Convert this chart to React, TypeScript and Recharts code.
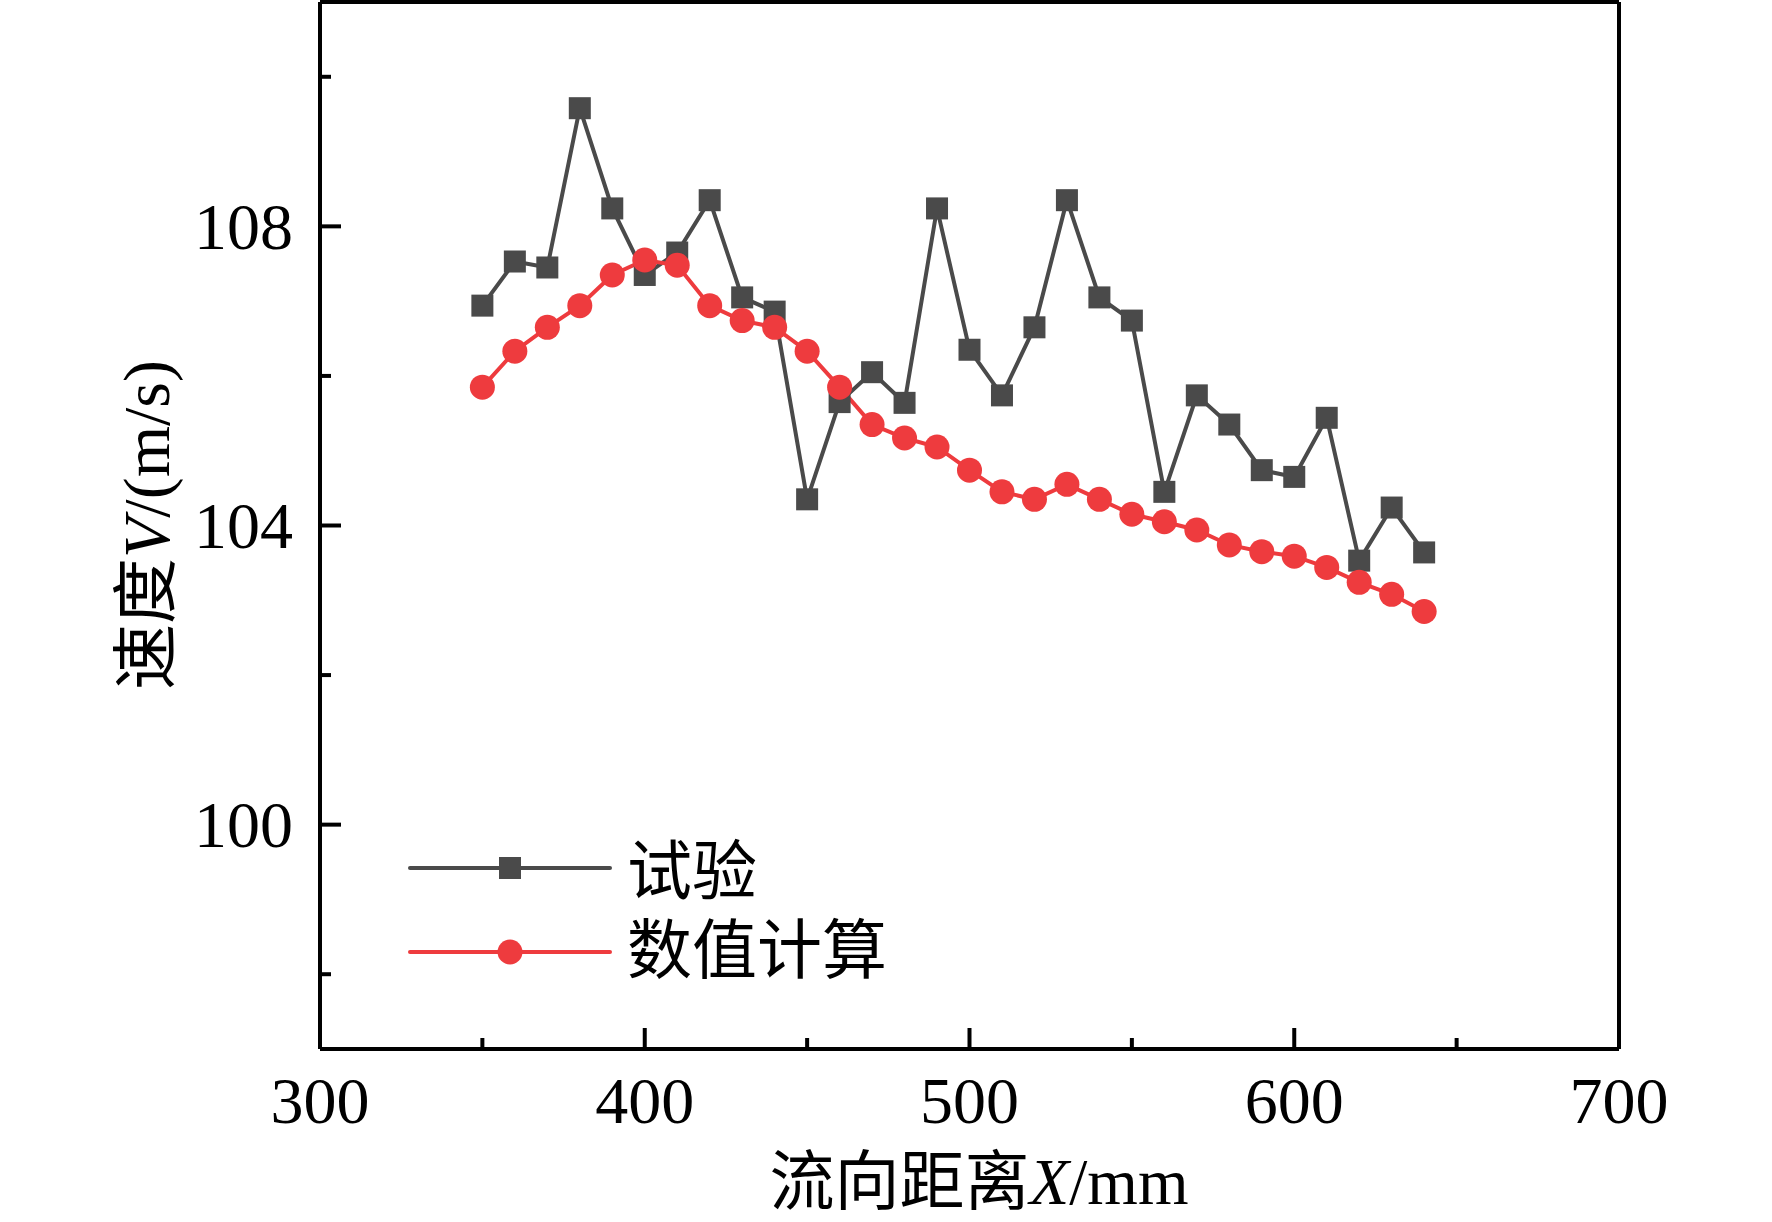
import { LineChart, Line, XAxis, YAxis, Legend } from 'recharts'

const xs = [350, 360, 370, 380, 390, 400, 410, 420, 430, 440, 450, 460, 470, 480, 490, 500, 510, 520, 530, 540, 550, 560, 570, 580, 590, 600, 610, 620, 630, 640]
const testVals = [106.94, 107.53, 107.45, 109.58, 108.24, 107.35, 107.65, 108.35, 107.05, 106.86, 104.35, 105.65, 106.05, 105.64, 108.24, 106.35, 105.74, 106.65, 108.35, 107.05, 106.74, 104.45, 105.74, 105.35, 104.74, 104.65, 105.44, 103.53, 104.24, 103.64]
const calcVals = [105.85, 106.33, 106.65, 106.94, 107.35, 107.55, 107.48, 106.94, 106.74, 106.65, 106.33, 105.85, 105.35, 105.17, 105.05, 104.74, 104.45, 104.35, 104.55, 104.35, 104.15, 104.05, 103.94, 103.74, 103.65, 103.59, 103.44, 103.24, 103.08, 102.85]
const xTicks = [300, 350, 400, 450, 500, 550, 600, 650, 700]
const yTicks = [98, 100, 102, 104, 106, 108, 110]
const seriesNames = ['试验', '数值计算']

const data = xs.map((x, i) => ({ x, test: testVals[i], calc: calcVals[i] }))

const FONT = "'Liberation Serif', 'Times New Roman', 'Noto Sans CJK SC', serif"
const GRAY = '#4a4a4a'
const RED = '#ee3b3e'

function SquareDot({ cx, cy }: { cx?: number; cy?: number }) {
  if (cx == null || cy == null) return null
  return <rect x={cx - 11} y={cy - 11} width={22} height={22} fill={GRAY} />
}

function CircleDot({ cx, cy }: { cx?: number; cy?: number }) {
  if (cx == null || cy == null) return null
  return <circle cx={cx} cy={cy} r={12.5} fill={RED} />
}

function YTick({ x, y, payload }: any) {
  const major = payload.value % 4 === 0
  return (
    <g>
      <line x1={x} x2={x + (major ? 21 : 11)} y1={y} y2={y} stroke="#000" strokeWidth={4} />
      {major && (
        <text x={x - 27} y={y} textAnchor="end" dominantBaseline="central" fontSize={66} fontFamily={FONT} fill="#000">
          {payload.value}
        </text>
      )}
    </g>
  )
}

function XTick({ x, y, payload }: any) {
  const major = payload.value % 100 === 0
  return (
    <g>
      <line x1={x} x2={x} y1={y} y2={y - (major ? 21 : 11)} stroke="#000" strokeWidth={4} />
      {major && (
        <text x={x} y={y + 51} textAnchor="middle" dominantBaseline="central" fontSize={66} fontFamily={FONT} fill="#000">
          {payload.value}
        </text>
      )}
    </g>
  )
}

function XTitle() {
  return (
    <text x={979} y={1182} textAnchor="middle" dominantBaseline="central" fontSize={65} fontFamily={FONT} fill="#000">
      流向距离<tspan fontStyle="italic">X</tspan>/mm
    </text>
  )
}

function YTitle() {
  return (
    <text x={146} y={525} transform="rotate(-90 146 525)" textAnchor="middle" dominantBaseline="central" fontSize={66} fontFamily={FONT} fill="#000">
      速度<tspan fontStyle="italic">V</tspan>/(m/s)
    </text>
  )
}

function LegendBox() {
  return (
    <svg width={560} height={170}>
      <line x1={10} x2={210} y1={38} y2={38} stroke={GRAY} strokeWidth={4} strokeLinecap="round" />
      <rect x={99} y={27} width={22} height={22} fill={GRAY} />
      <text x={227} y={42} dominantBaseline="central" fontSize={65} fontFamily={FONT} fill="#000">{seriesNames[0]}</text>
      <line x1={10} x2={210} y1={122} y2={122} stroke={RED} strokeWidth={4} strokeLinecap="round" />
      <circle cx={110} cy={122} r={12.5} fill={RED} />
      <text x={227} y={121} dominantBaseline="central" fontSize={65} fontFamily={FONT} fill="#000">{seriesNames[1]}</text>
    </svg>
  )
}

export default function App() {
  return (
    <div style={{ position: 'absolute', left: 0, top: 0, width: 1772, height: 1222, background: '#fff' }}>
      <LineChart width={1772} height={1222} data={data} margin={{ top: 0, right: 151, bottom: 113, left: 260 }}>
        <XAxis
          dataKey="x"
          type="number"
          domain={[300, 700]}
          ticks={xTicks}
          interval={0}
          height={60}
          tickSize={0}
          tickMargin={0}
          tickLine={false}
          tick={<XTick />}
          axisLine={{ stroke: '#000', strokeWidth: 4 }}
          label={<XTitle />}
        />
        <XAxis xAxisId="top" orientation="top" dataKey="x" type="number" domain={[300, 700]} height={2} tick={false} tickLine={false} axisLine={{ stroke: '#000', strokeWidth: 4 }} />
        <YAxis
          type="number"
          domain={[97, 111]}
          ticks={yTicks}
          interval={0}
          width={60}
          tickSize={0}
          tickMargin={0}
          tickLine={false}
          tick={<YTick />}
          axisLine={{ stroke: '#000', strokeWidth: 4 }}
          label={<YTitle />}
        />
        <YAxis yAxisId="right" orientation="right" type="number" domain={[97, 111]} width={2} tick={false} tickLine={false} axisLine={{ stroke: '#000', strokeWidth: 4 }} />
        <Legend
          layout="horizontal"
          verticalAlign="middle"
          align="center"
          content={<LegendBox />}
          wrapperStyle={{ position: 'absolute', left: 400, top: 830, width: 560, height: 170 }}
        />
        <Line
          type="linear"
          dataKey="test"
          name={seriesNames[0]}
          stroke={GRAY}
          strokeWidth={4}
          dot={<SquareDot />}
          activeDot={false}
          isAnimationActive={false}
        />
        <Line
          type="linear"
          dataKey="calc"
          name={seriesNames[1]}
          stroke={RED}
          strokeWidth={4}
          dot={<CircleDot />}
          activeDot={false}
          isAnimationActive={false}
        />
      </LineChart>
    </div>
  )
}
